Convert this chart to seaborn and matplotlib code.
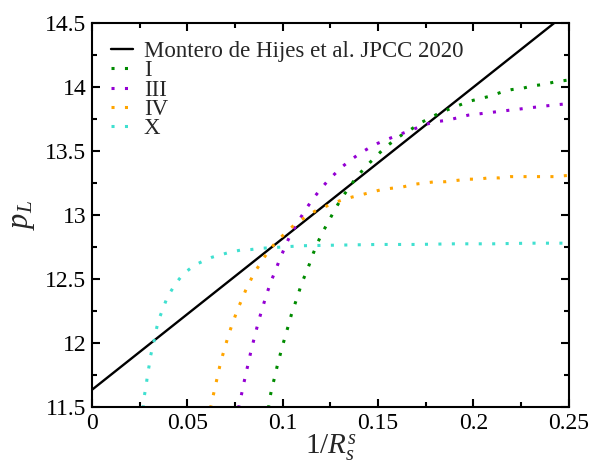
import matplotlib
matplotlib.use("Agg")
import matplotlib.pyplot as plt
import seaborn as sns
from matplotlib.ticker import MultipleLocator

# ---- data ----
ref_x = [0.0, 0.25]
ref_y = [11.635, 14.59]

I_x = [0.0925, 0.0933, 0.0945, 0.0959, 0.0971, 0.0985, 0.0999, 0.1015, 0.103, 0.1045, 0.1063, 0.1081,
       0.11, 0.112, 0.1141, 0.116, 0.1182, 0.1207, 0.1233, 0.126, 0.1288, 0.1317, 0.1351, 0.1384,
       0.1419, 0.1457, 0.1498, 0.1538, 0.1583, 0.1628, 0.1674, 0.1723, 0.1775, 0.1825, 0.1878,
       0.1929, 0.1982, 0.2037, 0.2091, 0.2147, 0.2201, 0.2257, 0.2313, 0.2369, 0.2427, 0.25]
I_y = [11.49, 11.575, 11.66, 11.74, 11.82, 11.90, 11.98, 12.06, 12.14, 12.22, 12.30, 12.38,
       12.47, 12.54, 12.62, 12.70, 12.78, 12.86, 12.93, 13.005, 13.08, 13.15, 13.22, 13.29,
       13.35, 13.41, 13.47, 13.53, 13.58, 13.63, 13.67, 13.72, 13.76, 13.80, 13.83,
       13.86, 13.89, 13.91, 13.93, 13.96, 13.98, 13.99, 14.01, 14.02, 14.04, 14.055]

III_x = [0.0768, 0.0772, 0.0784, 0.0795, 0.0807, 0.0819, 0.0831, 0.0844, 0.0858, 0.0871, 0.0887,
         0.0903, 0.092, 0.0938, 0.0959, 0.0978, 0.0999, 0.102, 0.1046, 0.1071, 0.1098, 0.1128,
         0.116, 0.1195, 0.1232, 0.1272, 0.1314, 0.1357, 0.1403, 0.1448, 0.1498, 0.1546, 0.1597,
         0.1649, 0.1702, 0.1754, 0.1808, 0.1862, 0.1918, 0.1972, 0.2028, 0.2084, 0.214, 0.2196,
         0.2254, 0.231, 0.2367, 0.2425, 0.25]
III_y = [11.49, 11.52, 11.60, 11.68, 11.76, 11.84, 11.92, 12.00, 12.08, 12.16, 12.24,
         12.32, 12.40, 12.48, 12.555, 12.63, 12.705, 12.78, 12.86, 12.92, 12.99, 13.06,
         13.13, 13.195, 13.26, 13.32, 13.38, 13.43, 13.48, 13.52, 13.56, 13.59, 13.62,
         13.65, 13.68, 13.71, 13.73, 13.74, 13.76, 13.78, 13.79, 13.80, 13.81, 13.82,
         13.83, 13.84, 13.85, 13.86, 13.87]

IV_x = [0.062, 0.0624, 0.0634, 0.0646, 0.0658, 0.067, 0.0684, 0.0698, 0.0713, 0.073, 0.0748,
        0.0765, 0.0786, 0.0805, 0.0828, 0.0851, 0.0878, 0.0908, 0.0938, 0.0971, 0.1008, 0.1043,
        0.1081, 0.1125, 0.1169, 0.1214, 0.1263, 0.1314, 0.1363, 0.1417, 0.147, 0.1522, 0.1576,
        0.1632, 0.1688, 0.1744, 0.18, 0.1853, 0.1911, 0.1967, 0.2023, 0.208, 0.2138, 0.2196,
        0.2254, 0.231, 0.2367, 0.2427, 0.25]
IV_y = [11.49, 11.51, 11.58, 11.66, 11.74, 11.82, 11.90, 11.97, 12.05, 12.125, 12.20,
        12.27, 12.34, 12.41, 12.48, 12.55, 12.61, 12.68, 12.74, 12.80, 12.85, 12.90,
        12.945, 12.99, 13.03, 13.06, 13.09, 13.12, 13.14, 13.16, 13.18, 13.20, 13.21,
        13.22, 13.24, 13.25, 13.26, 13.26, 13.27, 13.28, 13.28, 13.29, 13.29, 13.30,
        13.30, 13.30, 13.30, 13.30, 13.31]

X_x = [0.0265, 0.0269, 0.0274, 0.0283, 0.029, 0.0299, 0.0307, 0.032, 0.033, 0.034, 0.0353, 0.037,
       0.039, 0.0412, 0.0436, 0.0466, 0.05, 0.054, 0.0583, 0.0629, 0.0676, 0.0725, 0.0776,
       0.0831, 0.0887, 0.0943, 0.0999, 0.11, 0.13, 0.15, 0.17, 0.19, 0.21, 0.23, 0.25]
X_y = [11.49, 11.51, 11.586, 11.66, 11.74, 11.82, 11.90, 11.98, 12.05, 12.125, 12.195, 12.26,
       12.34, 12.40, 12.46, 12.516, 12.565, 12.61, 12.64, 12.67, 12.69, 12.71, 12.725,
       12.73, 12.74, 12.745, 12.75, 12.76, 12.765, 12.77, 12.77, 12.775, 12.775, 12.78, 12.78]

series = [("I", I_x, I_y, "#008b00"),
          ("III", III_x, III_y, "#9400d3"),
          ("IV", IV_x, IV_y, "#ffa500"),
          ("X", X_x, X_y, "#40e0d0")]

xticks = [0, 0.05, 0.1, 0.15, 0.2, 0.25]
xticklabels = ["0", "0.05", "0.1", "0.15", "0.2", "0.25"]
yticks = [11.5, 12, 12.5, 13, 13.5, 14, 14.5]
yticklabels = ["11.5", "12", "12.5", "13", "13.5", "14", "14.5"]

# ---- style ----
sns.set_theme(style="ticks")
plt.rcParams["font.family"] = ["Liberation Serif", "DejaVu Serif"]
plt.rcParams["mathtext.fontset"] = "custom"
plt.rcParams["mathtext.rm"] = "Liberation Serif"
plt.rcParams["mathtext.it"] = "Liberation Serif:italic"

fig = plt.figure(figsize=(5.9, 4.65), dpi=100)
ax = fig.add_axes([0.156, 0.1247, 0.808, 0.8258])

sns.lineplot(x=ref_x, y=ref_y, ax=ax, color="black", linewidth=1.7,
             label="Montero de Hijes et al. JPCC 2020", estimator=None)
for name, xs, ys, col in series:
    sns.lineplot(x=xs, y=ys, ax=ax, color=col, linewidth=2.2,
                 linestyle=(0, (1, 3.4)), label=name, estimator=None)

ax.set_xlim(0, 0.25)
ax.set_ylim(11.5, 14.5)
ax.set_xticks(xticks)
ax.set_xticklabels(xticklabels)
ax.set_yticks(yticks)
ax.set_yticklabels(yticklabels)
ax.xaxis.set_minor_locator(MultipleLocator(0.025))
ax.yaxis.set_minor_locator(MultipleLocator(0.25))
ax.tick_params(which="both", direction="in", top=True, right=True, width=1.5,
               labelsize=17, colors="black")
ax.tick_params(which="major", length=6, pad=4)
ax.tick_params(which="minor", length=3.5)
for sp in ax.spines.values():
    sp.set_linewidth(1.5)
    sp.set_color("black")

ax.set_xlabel(r"$\mathit{1/R_s^s}$", fontsize=21, labelpad=-1)
ax.set_ylabel("$p_L$", fontsize=22, labelpad=6)

leg = ax.legend(loc="upper left", bbox_to_anchor=(0.02, 0.978), frameon=False,
                fontsize=16.5, handlelength=0.95, handletextpad=0.5,
                labelspacing=-0.07, borderaxespad=0.0)

fig.savefig("out.png", dpi=100)
